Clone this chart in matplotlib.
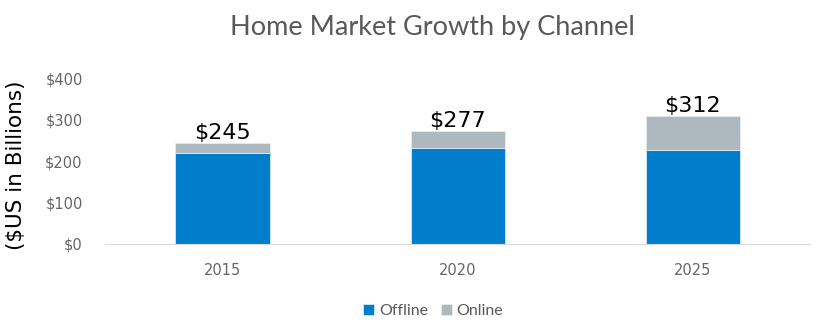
import numpy as np
import matplotlib
matplotlib.use("Agg")
import matplotlib.pyplot as plt

# ===============================
# Data
# ===============================
years = ["2015", "2020", "2025"]
offline = [220, 232, 226]
online = [23, 41, 83]
totals = [245, 277, 312]
yticks = [0, 100, 200, 300, 400]

# ===============================
# Style
# ===============================
BLUE = "#007DCB"
GREY = "#AEB8BF"
TEXT = "#595959"

fig = plt.figure(figsize=(8.2, 3.31), dpi=100)
ax = fig.add_axes([0.128, 0.263, 0.86, 0.501])

x = np.arange(len(years))
ax.bar(x, offline, width=0.4, color=BLUE, label="Offline",
       edgecolor="#E8F0F6", linewidth=0.5)
ax.bar(x, online, width=0.4, bottom=offline, color=GREY, label="Online",
       edgecolor="#E8F0F6", linewidth=0.5)

for xi, off, on, tot in zip(x, offline, online, totals):
    ax.annotate(f"${tot}", (xi, off + on), xytext=(0, 0),
                textcoords="offset points", ha="center", va="bottom",
                fontsize=16, color="black")

ax.set_xlim(-0.5, 2.5)
ax.set_ylim(0, 400)
ax.set_xticks(x)
ax.set_xticklabels(years)
ax.set_yticks(yticks)
ax.set_yticklabels([f"${v}" for v in yticks])
ax.tick_params(axis="both", length=0, labelsize=10.5, labelcolor="#666666")
ax.tick_params(axis="x", pad=14)
ax.tick_params(axis="y", pad=16)

for side in ["top", "right", "left"]:
    ax.spines[side].set_visible(False)
ax.spines["bottom"].set_color("#D9D9D9")

fig.text(0.019, 0.5, "($US in Billions)", rotation=90, ha="center",
         va="center", fontsize=15.5, color="black")

fig.suptitle("Home Market Growth by Channel", x=0.527, y=0.955,
             fontsize=19.5, color=TEXT, family="Lato")

leg = fig.legend(loc="center", bbox_to_anchor=(0.528, 0.06), ncol=2,
                 frameon=False, handlelength=0.7, handleheight=0.7,
                 handletextpad=0.3, columnspacing=0.8,
                 prop={"family": "Lato", "size": 11.5})
for t in leg.get_texts():
    t.set_color(TEXT)

fig.savefig("out.png", dpi=100)
